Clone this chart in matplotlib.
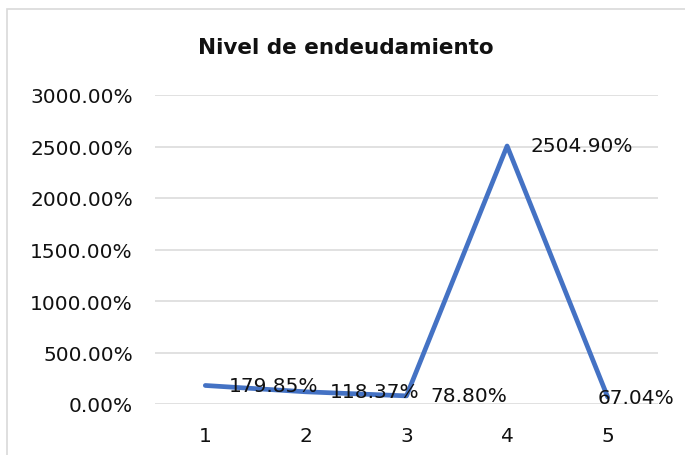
import matplotlib.pyplot as plt
import matplotlib.patches as patches

periods = [1, 2, 3, 4, 5]
nivel = [179.85, 118.37, 78.80, 2504.90, 67.04]
labels = ["179.85%", "118.37%", "78.80%", "2504.90%", "67.04%"]
label_dx = [17, 17, 17, 17, -7]   # last label is pushed back in by the chart edge

plt.rcParams["font.family"] = ["DejaVu Sans"]

W, H = 685, 456
fig = plt.figure(figsize=(W / 100, H / 100), dpi=100)

# chart frame
fig.patches.append(patches.Rectangle((7 / W, -0.1), 1.2, 1.1 - 10 / H,
                                     transform=fig.transFigure, fill=False,
                                     edgecolor="#D9D9D9", linewidth=1.2))

ax = fig.add_axes([155 / W, 1 - 405 / H, (658 - 155) / W, (405 - 96) / H])
ax.plot(periods, nivel, color="#4472C4", linewidth=3.4, solid_capstyle="round", zorder=3)

for x, y, t, dx in zip(periods, nivel, labels, label_dx):
    ax.annotate(t, (x, y), xytext=(dx, 0), textcoords="offset points",
                ha="left", va="center", fontsize=14.5, color="#111111", zorder=4)

ax.set_xlim(0.5, 5.5)
ax.set_ylim(0, 3000)
ax.set_yticks(range(0, 3001, 500))
ax.set_yticklabels([f"{v:.2f}%" for v in range(0, 3001, 500)])
ax.set_xticks(periods)
ax.tick_params(axis="both", length=0, labelsize=14.5, colors="#111111")
ax.tick_params(axis="y", pad=16)
ax.tick_params(axis="x", pad=16)
ax.grid(axis="y", color="#D9D9D9", linewidth=1.1)
ax.set_axisbelow(True)
for s in ax.spines.values():
    s.set_visible(False)

fig.text(346 / W, 1 - 48 / H, "Nivel de endeudamiento", ha="center", va="center",
         fontsize=15.5, fontweight="bold", color="#111111")

fig.savefig("out.png", dpi=100)
